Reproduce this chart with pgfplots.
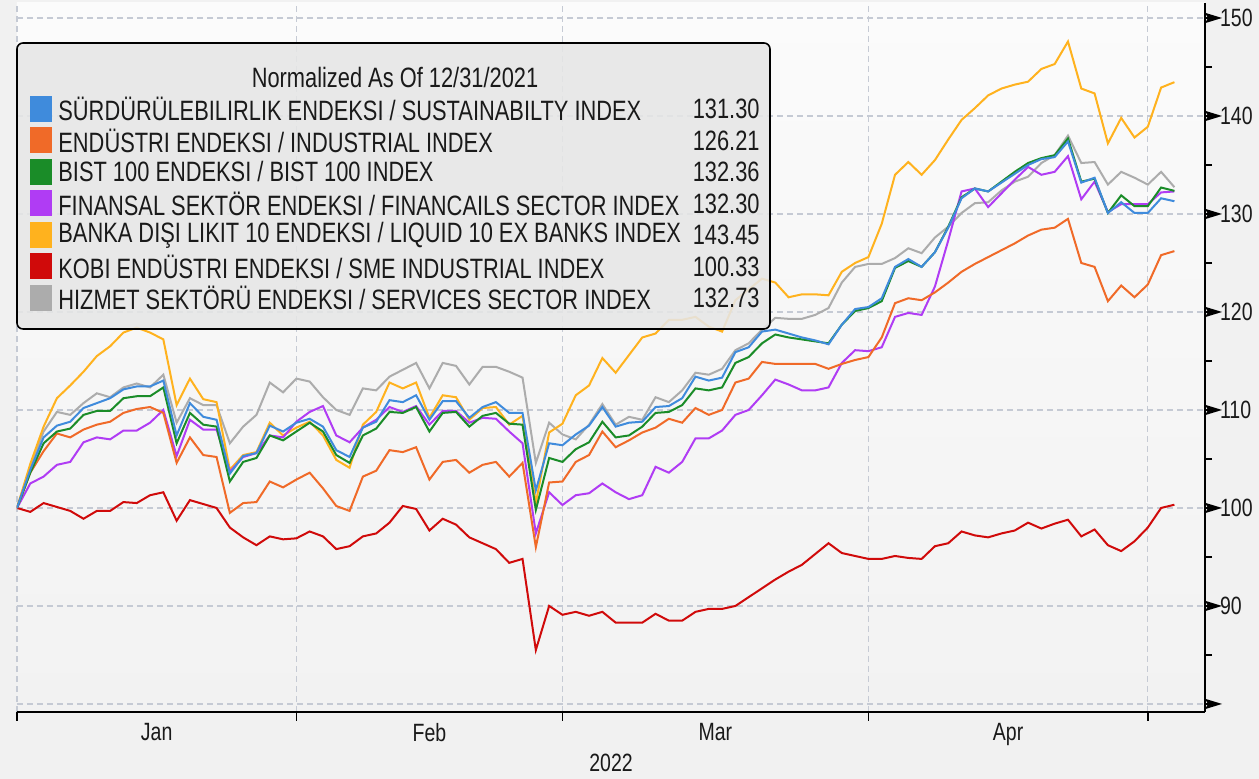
\documentclass[border=0pt]{standalone}
\usepackage{pgfplots}
\pgfplotsset{compat=1.18}
\usepackage{pgfplotstable}
\usepackage{fontspec}
\setmainfont{Liberation Sans}[FakeStretch=0.78]

\definecolor{cBlue}{HTML}{3F8BDC}
\definecolor{cOrange}{HTML}{F06A28}
\definecolor{cGreen}{HTML}{1A8C28}
\definecolor{cPurple}{HTML}{B03CF4}
\definecolor{cYellow}{HTML}{FFB21E}
\definecolor{cRed}{HTML}{D00A0A}
\definecolor{cGray}{HTML}{ACACAC}
\definecolor{bgOut}{HTML}{F1F1F1}
\definecolor{bgTop}{HTML}{FBFBFB}
\definecolor{bgBot}{HTML}{F2F2F2}
\definecolor{gridCol}{HTML}{C5CAD4}
\definecolor{legFill}{HTML}{E6E6E6}
\definecolor{txt}{HTML}{1A1A1A}

% day index (trading days from 12/31/2021), normalised values
\pgfplotstableread{
i  blue   orange  green   purple  yellow  red     gray
0  100.0  100.0   100.0   100.0   100.0   100.0   100.0
1  103.9  103.6   103.6   102.5   104.5   99.6    104.2
2  107.2  105.8   106.6   103.2   108.3   100.5   107.8
3  108.4  107.6   107.8   104.4   111.2   100.1   109.8
4  108.8  107.2   108.1   104.7   112.5   99.7    109.5
5  110.2  108.0   109.5   106.7   113.9   98.9    110.7
6  110.7  108.5   109.9   107.2   115.5   99.7    111.7
7  111.2  108.8   109.9   107.0   116.5   99.7    111.3
8  112.1  109.7   111.2   107.9   117.9   100.6   112.3
9  112.4  110.1   111.4   107.9   118.4   100.5   112.7
10 112.4  110.3   111.4   108.7   117.9   101.3   112.3
11 113.0  109.7   112.3   110.0   117.2   101.6   113.6
12 107.4  104.6   106.6   105.3   110.5   98.7    108.7
13 110.7  107.2   109.7   109.0   113.2   100.8   111.2
14 109.3  105.4   108.5   108.0   111.1   100.4   110.5
15 109.0  105.2   108.3   108.0   110.8   100.0   110.5
16 103.5  99.5    102.7   103.7   103.9   98.0    106.6
17 105.3  100.5   104.7   105.2   105.4   97.0    108.3
18 105.6  100.6   105.1   105.6   105.7   96.2    109.5
19 108.4  102.7   107.4   107.4   108.7   97.1    112.8
20 107.8  102.1   106.9   107.2   107.4   96.8    111.8
21 108.7  102.9   107.8   108.8   108.2   96.9    113.2
22 109.1  103.6   108.7   109.8   108.8   97.6    112.9
23 108.3  102.0   107.8   110.4   107.4   97.1    111.3
24 105.9  100.2   105.4   107.4   104.9   95.8    110.0
25 105.2  99.7    104.6   106.7   104.1   96.1    109.5
26 108.2  103.2   107.4   108.2   108.5   97.1    112.2
27 108.8  103.8   108.1   109.0   109.8   97.4    112.0
28 111.0  105.9   109.8   110.3   112.8   98.5    113.4
29 110.8  105.7   109.7   109.8   112.2   100.2   114.1
30 111.5  106.2   110.3   110.4   112.8   99.9    114.8
31 109.0  102.9   107.8   108.5   109.2   97.7    112.2
32 110.9  104.7   109.7   109.9   111.5   98.9    114.8
33 110.9  104.9   109.8   109.9   111.3   98.3    114.5
34 109.2  103.6   108.3   108.7   109.0   97.0    112.6
35 110.3  104.4   109.4   109.2   110.2   96.4    114.4
36 110.8  104.7   109.7   109.1   110.3   95.8    114.4
37 109.7  103.2   108.6   107.8   108.5   94.4    113.9
38 109.7  104.6   108.5   106.6   109.4   94.8    113.3
39 101.8  96.0    99.8    97.4    100.5   85.5    104.6
40 106.6  102.6   105.1   101.6   107.7   90.0    108.7
41 106.4  102.7   104.7   100.3   108.6   89.1    107.5
42 107.5  104.7   106.0   101.3   111.5   89.4    107.0
43 108.4  105.4   106.7   101.5   112.5   89.0    108.5
44 110.3  107.8   108.8   102.5   115.3   89.4    110.6
45 108.3  106.2   107.2   101.6   113.8   88.3    108.5
46 108.7  106.9   107.4   100.9   115.6   88.3    109.3
47 108.8  107.7   108.3   101.3   117.4   88.3    109.0
48 110.3  108.2   109.7   104.2   117.8   89.2    111.3
49 110.4  109.1   109.8   103.6   119.2   88.5    110.8
50 111.2  108.7   110.5   104.7   119.2   88.5    112.0
51 113.4  110.2   112.2   107.1   119.5   89.4    113.8
52 113.0  109.5   112.0   107.1   118.5   89.7    113.6
53 113.3  110.0   112.3   107.9   118.0   89.7    114.2
54 115.9  112.8   114.8   109.5   121.2   90.0    116.1
55 116.4  113.2   115.4   110.0   122.3   90.9    116.8
56 118.0  114.9   116.8   111.5   123.4   91.8    118.2
57 118.2  114.7   117.7   113.1   123.0   92.7    119.4
58 117.8  114.7   117.4   112.6   121.5   93.5    119.3
59 117.4  114.7   117.2   112.0   121.8   94.2    119.3
60 117.1  114.7   117.0   112.0   121.8   95.3    119.7
61 116.7  114.2   116.8   112.3   121.7   96.4    120.4
62 118.7  114.7   118.7   114.8   124.1   95.4    123.0
63 120.3  115.1   120.1   116.1   125.0   95.1    124.6
64 120.5  115.4   120.4   116.0   125.6   94.8    124.9
65 121.4  117.4   121.1   116.4   129.0   94.8    124.9
66 124.6  120.9   124.5   119.5   134.0   95.1    125.5
67 125.4  121.4   125.2   119.9   135.3   94.9    126.5
68 124.6  121.2   124.6   119.7   134.0   94.8    126.0
69 126.1  122.0   126.1   122.6   135.5   96.1    127.6
70 128.6  123.0   128.7   127.3   137.6   96.4    128.7
71 131.6  124.1   131.7   132.3   139.6   97.6    130.1
72 132.6  124.9   132.6   132.6   140.8   97.2    131.1
73 132.3  125.6   132.3   130.7   142.1   97.0    131.2
74 133.2  126.3   133.3   132.1   142.8   97.4    132.4
75 134.1  127.0   134.3   133.5   143.2   97.7    133.3
76 135.0  127.8   135.2   134.8   143.5   98.5    133.8
77 135.6  128.4   135.7   134.0   144.8   97.9    135.2
78 135.8  128.6   136.0   134.3   145.3   98.4    136.0
79 137.4  129.5   137.7   135.9   147.6   98.8    138.0
80 133.2  125.0   133.3   131.5   142.8   97.1    135.2
81 133.7  124.6   133.6   133.3   142.3   97.8    135.3
82 130.1  121.1   130.1   130.2   137.2   96.2    133.0
83 131.2  122.7   131.9   131.0   139.8   95.6    134.3
84 130.1  121.5   130.8   131.0   137.8   96.6    133.7
85 130.1  122.8   130.8   131.0   138.9   98.0    133.0
86 131.6  125.8   132.7   132.2   142.9   100.0   134.3
87 131.30 126.21  132.36  132.30  143.45  100.33  132.73
}\idx

\begin{document}
\begin{tikzpicture}[font=\fontsize{12.5}{15}\selectfont, text=txt]
\fill[bgOut] (-8.5pt,-33.5pt) rectangle (621pt,356pt);
\begin{axis}[
    at={(0pt,0pt)}, anchor=south west,
    scale only axis, width=594pt, height=354.5pt,
    xmin=0, xmax=89.3, ymin=79.18, ymax=151.53,
    clip mode=individual,
    axis x line*=bottom, axis y line*=right,
    axis line style={-, black, line width=1pt},
    axis background/.style={top color=bgTop, bottom color=bgBot},
    xtick={0,21,41,64,85}, xticklabels={},
    extra x ticks={10.5,31,52.5,74.5},
    extra x tick labels={Jan,Feb,Mar,Apr},
    extra x tick style={major tick length=0pt, grid=none},
    xticklabel style={yshift=-2pt},
    ytick={80,90,...,150},
    yticklabels={,90,100,110,120,130,140,150},
    minor y tick num=1,
    yticklabel pos=right,
    yticklabel style={xshift=-0.5pt},
    tick align=outside, major tick length=4.5pt, minor tick length=3.5pt,
    tick style={black, line width=0.7pt},
    grid=major, grid style={dash pattern=on 3pt off 2pt, gridCol, line width=0.6pt},
    /pgf/number format/assume math mode=true,
    xlabel={2022},
    xlabel style={yshift=7pt},
    every tick label/.append style={text=txt},
]
\addplot[cGray, line width=1pt] table[x=i, y=gray] {\idx};
\addplot[cRed, line width=1pt] table[x=i, y=red] {\idx};
\addplot[cYellow, line width=1pt] table[x=i, y=yellow] {\idx};
\addplot[cPurple, line width=1pt] table[x=i, y=purple] {\idx};
\addplot[cOrange, line width=1pt] table[x=i, y=orange] {\idx};
\addplot[cGreen, line width=1pt] table[x=i, y=green] {\idx};
\addplot[cBlue, line width=1pt] table[x=i, y=blue] {\idx};
% arrow-shaped major ticks on the value axis
\pgfplotsinvokeforeach{80,90,...,150}{
  \fill[black] (axis cs:89.3,#1) ++(0pt,-2.6pt) -- ++(8.5pt,2.6pt) -- ++(-8.5pt,2.6pt) -- ++(1.5pt,-2.6pt) -- cycle;
}
\end{axis}
% legend box
\draw[rounded corners=3pt, fill=legFill, fill opacity=0.88, draw=black, line width=0.8pt]
    (0pt,334.5pt) rectangle (376.5pt,191.5pt);
\node[font=\fontsize{14}{16}\selectfont] at (189pt,317pt) {Normalized As Of 12/31/2021};
\foreach \k/\c/\lab/\val in {
    0/cBlue/{SÜRDÜRÜLEBILIRLIK ENDEKSI / SUSTAINABILTY INDEX}/131.30,
    1/cOrange/{ENDÜSTRI ENDEKSI / INDUSTRIAL INDEX}/126.21,
    2/cGreen/{BIST 100 ENDEKSI / BIST 100 INDEX}/132.36,
    3/cPurple/{FINANSAL SEKTÖR ENDEKSI / FINANCAILS SECTOR INDEX}/132.30,
    4/cYellow/{BANKA DIŞI LIKIT 10 ENDEKSI / LIQUID 10 EX BANKS INDEX}/143.45,
    5/cRed/{KOBI ENDÜSTRI ENDEKSI / SME INDUSTRIAL INDEX}/100.33,
    6/cGray/{HIZMET SEKTÖRÜ ENDEKSI / SERVICES SECTOR INDEX}/132.73} {
  \pgfmathsetmacro{\yy}{301.5-15.75*\k}
  \fill[\c] (6.5pt,\yy pt-6.5pt) rectangle (17.5pt,\yy pt+6.5pt);
  \node[anchor=west, inner sep=0pt, font=\fontsize{14}{16}\selectfont] at (20.5pt,\yy pt) {\lab};
  \node[anchor=east, inner sep=0pt, font=\fontsize{14}{16}\selectfont] at (371.5pt,\yy pt) {\val};
}
\pgfresetboundingbox
\useasboundingbox (-8.5pt,-33.5pt) rectangle (621pt,356pt);
\end{tikzpicture}
\end{document}
